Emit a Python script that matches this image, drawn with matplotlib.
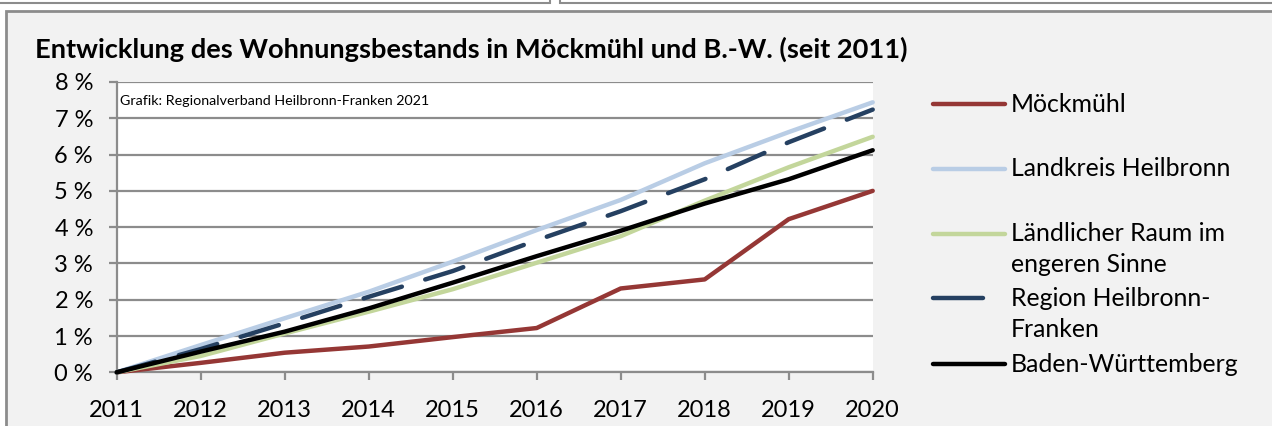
import matplotlib
matplotlib.use("Agg")
import matplotlib.pyplot as plt
from matplotlib.lines import Line2D
from matplotlib.patches import Rectangle

plt.rcParams['font.family'] = ['Lato', 'DejaVu Sans']

years = [2011, 2012, 2013, 2014, 2015, 2016, 2017, 2018, 2019, 2020]
moeckmuehl = [0.0, 0.26, 0.54, 0.71, 0.97, 1.22, 2.31, 2.56, 4.22, 5.00]
landkreis_hn = [0.0, 0.75, 1.49, 2.22, 3.05, 3.92, 4.75, 5.76, 6.62, 7.44]
laendlicher_raum = [0.0, 0.45, 1.07, 1.67, 2.29, 3.02, 3.75, 4.73, 5.65, 6.49]
region_hnf = [0.0, 0.64, 1.35, 2.08, 2.79, 3.64, 4.44, 5.32, 6.34, 7.24]
baden_wuerttemberg = [0.0, 0.57, 1.12, 1.76, 2.47, 3.20, 3.90, 4.65, 5.32, 6.12]

series_names = ["Möckmühl", "Landkreis Heilbronn", "Ländlicher Raum im\nengeren Sinne",
                "Region Heilbronn-\nFranken", "Baden-Württemberg"]
y_ticks = [0, 1, 2, 3, 4, 5, 6, 7, 8]
y_tick_labels = [f"{v} %" for v in y_ticks]
title = "Entwicklung des Wohnungsbestands in Möckmühl und B.-W. (seit 2011)"
source = "Grafik: Regionalverband Heilbronn-Franken 2021"

W, H = 1272, 426
fig = plt.figure(figsize=(W / 100, H / 100), dpi=100)
fig.patch.set_facecolor("white")

def px(x, y):
    return x / W, 1 - y / H

# frame panels
border = "#8c8c8c"
for rect in [Rectangle(px(-10, 3), 560 / W, 30 / H),
             Rectangle(px(560, 3), 800 / W, 30 / H)]:
    rect.set(transform=fig.transFigure, facecolor="white", edgecolor=border, lw=1.5, zorder=-10)
    fig.add_artist(rect)
panel = Rectangle(px(6, 440), 1300 / W, 429 / H, transform=fig.transFigure,
                  facecolor="#f2f2f2", edgecolor=border, lw=2, zorder=-9)
fig.add_artist(panel)

ax = fig.add_axes([116.7 / W, 1 - 372.3 / H, (872.7 - 116.7) / W, (372.3 - 82) / H])
ax.set_facecolor("white")

colors = ["#953735", "#b9cde5", "#c3d69b", "#254061", "#000000"]
data = [moeckmuehl, landkreis_hn, laendlicher_raum, region_hnf, baden_wuerttemberg]
lw = 3.2
for i in [1, 2, 4, 3, 0]:
    kw = dict(color=colors[i], lw=lw, solid_capstyle="round", solid_joinstyle="round",
              clip_on=False, zorder=3 + i)
    if i == 3:
        kw.update(dashes=(9.0, 5.5), dash_capstyle="round")
    ax.plot(years, data[i], **kw)

ax.set_xlim(2011, 2020)
ax.set_ylim(0, 8)
ax.set_yticks(y_ticks)
ax.set_yticklabels(y_tick_labels)
ax.set_xticks(years)
ax.set_xticklabels([str(y) for y in years])
ax.grid(axis="y", color="#8c8c8c", lw=1.6)
ax.set_axisbelow(True)
for s in ["top", "right"]:
    ax.spines[s].set_visible(False)
for s in ["left", "bottom"]:
    ax.spines[s].set_color("#8c8c8c")
    ax.spines[s].set_linewidth(1.6)
ax.tick_params(axis="both", colors="#8c8c8c", length=6, width=1.6, labelsize=17,
               labelcolor="black")
ax.tick_params(axis="y", pad=11)
ax.tick_params(axis="x", pad=14)

fig.text(35 / W, 1 - 49 / H, title, fontsize=19.6, fontweight="bold", va="center", ha="left")
fig.text(120 / W, 1 - 101 / H, source, fontsize=10.3, va="center", ha="left")

# legend
leg_y = [104, 169, 234, 298, 364]
text_y = [104, 169, 249, 314, 364]
for i in range(5):
    x0, x1 = 933, (983 if i == 3 else 1005)
    fig.add_artist(Line2D([x0 / W, x1 / W], [1 - leg_y[i] / H, 1 - leg_y[i] / H],
                          color=colors[i], lw=lw, solid_capstyle="round",
                          transform=fig.transFigure))
    fig.text(1011 / W, 1 - text_y[i] / H, series_names[i], fontsize=17.9, va="center",
             ha="left", linespacing=1.42)

fig.savefig("out.png", dpi=100, facecolor=fig.get_facecolor())
